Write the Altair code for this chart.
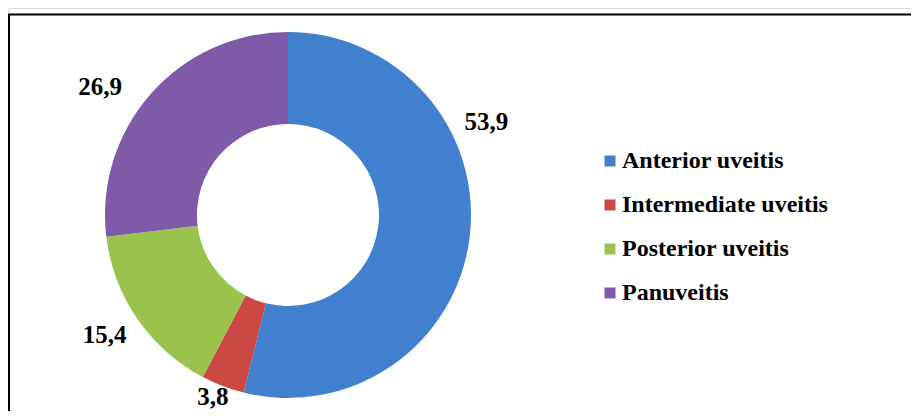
import altair as alt
import pandas as pd

categories = ["Anterior uveitis", "Intermediate uveitis", "Posterior uveitis", "Panuveitis"]
values = [53.9, 3.8, 15.4, 26.9]
labels = ["53,9", "3,8", "15,4", "26,9"]
colors = ["#4080CE", "#CB4845", "#9BC24C", "#7E5AA8"]

df = pd.DataFrame({"category": categories, "value": values, "label": labels,
                   "idx": list(range(len(categories)))})

CX, CY = 280, 207
FONT = "Liberation Serif, Times New Roman, serif"

color = alt.Color("category:N", sort=categories,
                  scale=alt.Scale(domain=categories, range=colors),
                  legend=alt.Legend(title=None, orient="none", legendX=590, legendY=141,
                                    symbolType="square", symbolSize=121,
                                    symbolStrokeWidth=0, labelFont=FONT, labelFontSize=24,
                                    labelFontWeight="bold", labelColor="#000000",
                                    rowPadding=20, labelOffset=0, labelLimit=400))

arc = alt.Chart(df).mark_arc(innerRadius=91, outerRadius=183).encode(
    theta=alt.Theta("value:Q", stack=True),
    order=alt.Order("idx:Q"),
    color=color, x=alt.value(CX), y=alt.value(CY))

label_base = alt.Chart(df).transform_joinaggregate(
    total="sum(value)"
).transform_window(
    cum="sum(value)", sort=[alt.SortField("idx")]
).transform_calculate(
    frac="(datum.cum - datum.value / 2) / datum.total"
)

def label_layer(i, dx=0, dy=0):
    return label_base.transform_filter(alt.datum.idx == i).mark_text(
        radius=219, font=FONT, fontSize=25, fontWeight="bold", color="#000000",
        dx=dx, dy=dy
    ).encode(
        theta=alt.Theta("frac:Q", scale=alt.Scale(domain=[0, 1]), stack=None),
        text="label:N", x=alt.value(CX), y=alt.value(CY))

# label nudges from the mid-angle position, as placed in the original
nudges = {0: (-19, -120), 1: (3, -23), 2: (-3, -4), 3: (-24, 17)}
text_layers = [label_layer(i, *nudges[i]) for i in range(len(categories))]

border = alt.Chart(pd.DataFrame({"a": [0]})).mark_rect(
    fill=None, stroke="#000000", strokeWidth=2).encode(
    x=alt.value(1), x2=alt.value(960), y=alt.value(6.5), y2=alt.value(460))

chart = alt.layer(border, arc, *text_layers).resolve_scale(
    theta="independent"
).properties(
    width=903, height=403, padding=0,
    autosize=alt.AutoSizeParams(type="none")
).configure_view(stroke=None).configure(background="#ffffff")

chart.save("out.html", embed_options={"renderer": "svg", "actions": False})
